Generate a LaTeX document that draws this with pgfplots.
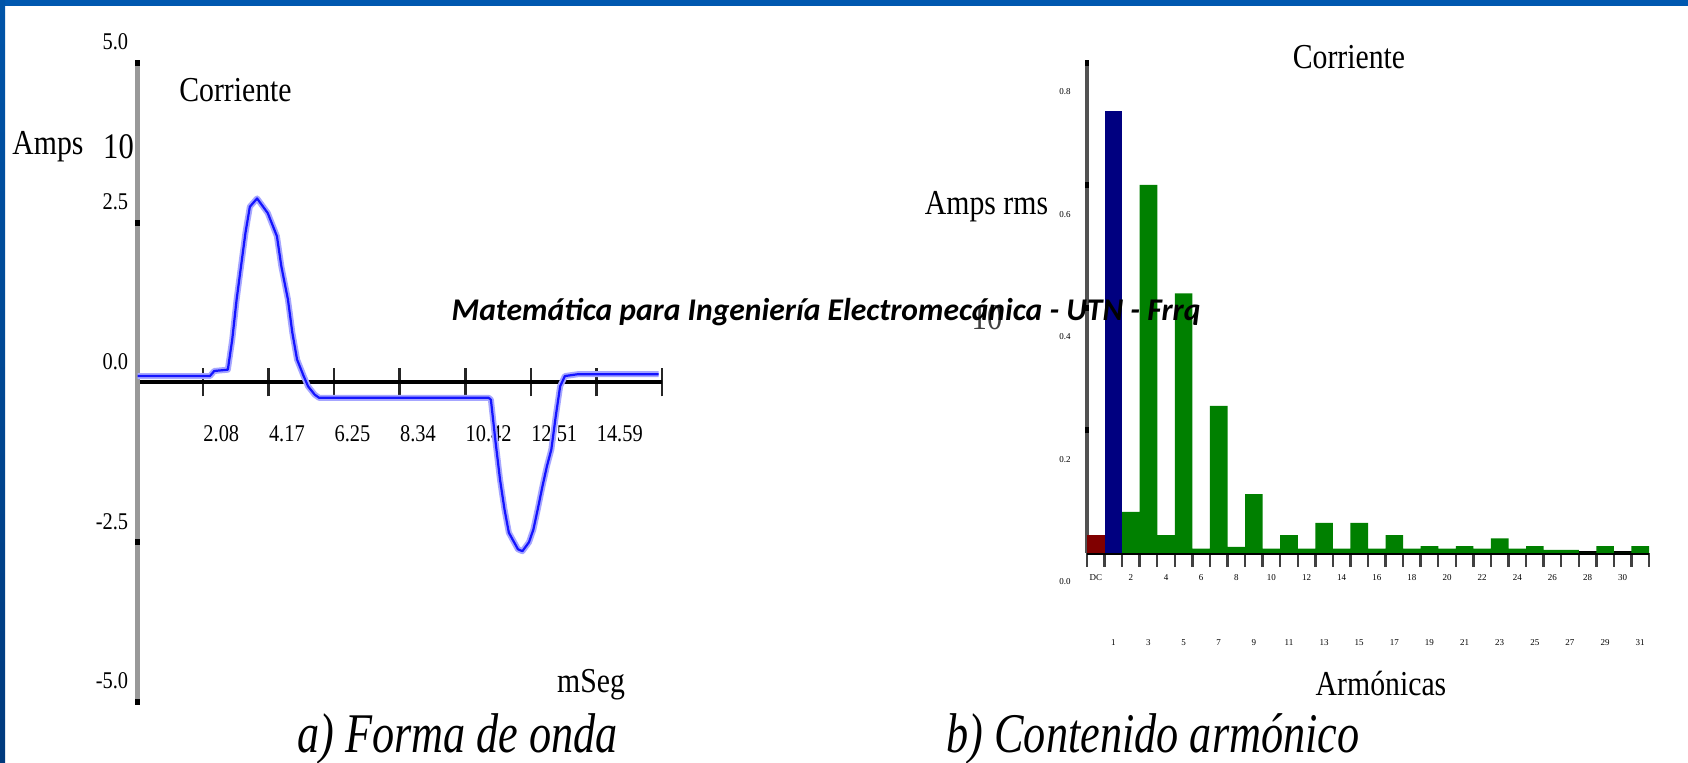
\documentclass[border=0pt]{standalone}
\usepackage{pgfplots}
\pgfplotsset{compat=1.18}
\usepackage{pgfplotstable}
\usepackage{graphicx}
\usepackage{fontspec}
\setmainfont{Liberation Serif}
\newfontfamily\wmfont{Carlito}
\definecolor{topblue}{RGB}{0,88,176}
\definecolor{lefttop}{RGB}{0,84,168}
\definecolor{leftbot}{RGB}{0,58,125}
\definecolor{wavebl}{RGB}{20,20,255}
\definecolor{barnavy}{RGB}{0,0,128}
\definecolor{bargreen}{RGB}{0,128,0}
\definecolor{barred}{RGB}{128,0,0}
\newcommand{\cz}[1]{\scalebox{0.85}[1]{#1}}
\newcommand{\czz}[1]{\scalebox{0.79}[1]{#1}}
\newcommand{\lo}[1]{\raisebox{-34pt}[0pt][0pt]{#1}}

\pgfplotstableread{
t i
0 0.1
2.30 0.1
2.44 0.18
2.87 0.2
3.01 0.67
3.15 1.30
3.29 1.82
3.43 2.34
3.57 2.75
3.80 2.88
4.14 2.65
4.43 2.29
4.57 1.82
4.78 1.30
4.92 0.78
5.07 0.36
5.28 0.1
5.42 -0.06
5.63 -0.19
5.77 -0.24
11.16 -0.24
11.23 -0.27
11.38 -0.94
11.52 -1.52
11.66 -1.98
11.80 -2.35
12.09 -2.61
12.23 -2.64
12.44 -2.50
12.58 -2.30
12.72 -1.98
12.87 -1.62
13.01 -1.31
13.15 -1.05
13.29 -0.53
13.43 -0.06
13.58 0.1
14.0 0.13
16.56 0.13
}\wave

\pgfplotstableread{
k a
0 0.029
}\dcbar
\pgfplotstableread{
k a
1 0.722
}\fundbar
\pgfplotstableread{
k a
2 0.067
3 0.601
4 0.029
5 0.424
6 0.007
7 0.240
8 0.010
9 0.096
10 0.007
11 0.029
12 0.007
13 0.049
14 0.007
15 0.049
16 0.007
17 0.029
18 0.007
19 0.011
20 0.007
21 0.011
22 0.007
23 0.024
24 0.007
25 0.011
26 0.005
27 0.005
28 0
29 0.011
30 0
31 0.011
}\harmbars

\begin{document}
\begin{tikzpicture}
\useasboundingbox (0,0) rectangle (844pt,381.5pt);
\fill[white] (0,0) rectangle (844pt,381.5pt);
\fill[topblue] (0,378.5pt) rectangle (844pt,381.5pt);
\shade[top color=lefttop, bottom color=leftbot] (0,0) rectangle (2.5pt,381.5pt);

% ---------- left chart: waveform ----------
\begin{axis}[
  at={(68.75pt,30.5pt)}, anchor=south west,
  scale only axis, width=262.25pt, height=319.5pt,
  xmin=0, xmax=16.66667, ymin=-5, ymax=5,
  clip=false,
  axis x line=middle, axis y line=left,
  x axis line style={-, black, line width=2pt},
  y axis line style={-, black!40, line width=2.5pt},
  xtick={0,2.08333,4.16667,6.25,8.33333,10.41667,12.5,14.58333,16.66667},
  xticklabels={,\cz{2.08},\cz{4.17},\cz{6.25},\cz{8.34},\cz{10.42},\cz{12.51},\cz{14.59},},
  tick align=center,
  major tick length=14pt,
  xtick style={black!85, line width=1.3pt},
  xticklabel style={anchor=north west, inner sep=0pt, yshift=-14.5pt, font=\fontsize{12}{12}\selectfont},
  ytick={-5,-2.5,0,2.5,5},
  yticklabels={\cz{-5.0},\cz{-2.5},\cz{0.0},\cz{2.5},\cz{5.0}},
  ytick style={draw=none},
  yticklabel style={anchor=east, inner sep=0pt, xshift=2.5pt, yshift=10.5pt, font=\fontsize{12}{12}\selectfont},
]
\addplot[blue!35, line width=3pt, line join=round] table[x=t,y=i]{\wave};
\addplot[wavebl, line width=1.1pt, line join=round] table[x=t,y=i]{\wave};
\draw[black, line width=2.5pt] ([yshift=-1.5pt]axis cs:0,-5) -- ([yshift=1.5pt]axis cs:0,-5);
\draw[black, line width=2.5pt] ([yshift=-1.5pt]axis cs:0,-2.5) -- ([yshift=1.5pt]axis cs:0,-2.5);
\draw[black, line width=2.5pt] ([yshift=-1.5pt]axis cs:0,2.5) -- ([yshift=1.5pt]axis cs:0,2.5);
\draw[black, line width=2.5pt] ([yshift=-1.5pt]axis cs:0,5) -- ([yshift=1.5pt]axis cs:0,5);
\end{axis}

% ---------- right chart: harmonics ----------
\begin{axis}[
  at={(543.5pt,105pt)}, anchor=south west,
  scale only axis, width=281pt, height=245pt,
  xmin=-0.5, xmax=31.5, ymin=0, ymax=0.8,
  clip=false,
  axis x line=bottom, axis y line=left,
  x axis line style={-, black, line width=2pt},
  y axis line style={-, black!68, line width=2pt},
  xtick={-0.5,0.5,...,31.5},
  xticklabels={},
  tick align=outside,
  major tick length=7pt,
  xtick style={black!75, line width=1.2pt},
  extra x ticks={0,1,...,31},
  extra x tick labels={DC,\lo{1},2,\lo{3},4,\lo{5},6,\lo{7},8,\lo{9},10,\lo{11},12,\lo{13},14,\lo{15},16,\lo{17},18,\lo{19},20,\lo{21},22,\lo{23},24,\lo{25},26,\lo{27},28,\lo{29},30,\lo{31}},
  extra x tick style={major tick length=0pt},
  xticklabel style={anchor=center, inner sep=0pt, yshift=-12.5pt, font=\fontsize{4.5}{5}\selectfont},
  ytick={0,0.2,0.4,0.6,0.8},
  yticklabels={0.0,0.2,0.4,0.6,0.8},
  ytick style={draw=none},
  yticklabel style={anchor=east, inner sep=0pt, xshift=-1pt, yshift=-14.5pt, font=\fontsize{4.5}{5}\selectfont},
]
\addplot[ybar, bar width=1, bar shift=0pt, fill=barred, draw=none] table[x=k,y=a]{\dcbar};
\addplot[ybar, bar width=1, bar shift=0pt, fill=barnavy, draw=none] table[x=k,y=a]{\fundbar};
\addplot[ybar, bar width=1, bar shift=0pt, fill=bargreen, draw=none] table[x=k,y=a]{\harmbars};
\draw[black, line width=2pt] ([yshift=-1.5pt]axis cs:-0.5,0.2) -- ([yshift=1.5pt]axis cs:-0.5,0.2);
\draw[black, line width=2pt] ([yshift=-1.5pt]axis cs:-0.5,0.4) -- ([yshift=1.5pt]axis cs:-0.5,0.4);
\draw[black, line width=2pt] ([yshift=-1.5pt]axis cs:-0.5,0.6) -- ([yshift=1.5pt]axis cs:-0.5,0.6);
\draw[black, line width=2pt] ([yshift=-1.5pt]axis cs:-0.5,0.8) -- ([yshift=1.5pt]axis cs:-0.5,0.8);
\end{axis}

% ---------- texts ----------
\node[font=\fontsize{17.5}{18}\selectfont] at (117.75pt,336.5pt) {\cz{Corriente}};
\node[font=\fontsize{17.5}{18}\selectfont] at (24pt,308pt) {\cz{Amps}};
\node[font=\fontsize{18}{18}\selectfont] at (59.25pt,308pt) {\cz{10}};
\node[font=\fontsize{17.5}{18}\selectfont] at (295.5pt,39pt) {\cz{mSeg}};
\node[font=\fontsize{28}{28}\selectfont\itshape, anchor=base] at (228.75pt,5pt) {\czz{a) Forma de onda}};
\node[font=\fontsize{28}{28}\selectfont\itshape, anchor=base] at (576.5pt,5pt) {\czz{b) Contenido armónico}};
\node[font=\fontsize{17.5}{18}\selectfont] at (674.5pt,353pt) {\cz{Corriente}};
\node[font=\fontsize{17.5}{18}\selectfont] at (493.25pt,278.3pt) {\cz{Amps rms}};
\node[font=\fontsize{18}{18}\selectfont, text=black!75] at (493.5pt,222.5pt) {\cz{10}};
\node[font=\fontsize{17.5}{18}\selectfont] at (690.5pt,39.5pt) {\cz{Armónicas}};
\node[font=\wmfont\bfseries\itshape\fontsize{15.8}{16}\selectfont] at (413pt,225.5pt) {Matemática para Ingeniería Electromecánica - UTN - Frrq};
\end{tikzpicture}
\end{document}
